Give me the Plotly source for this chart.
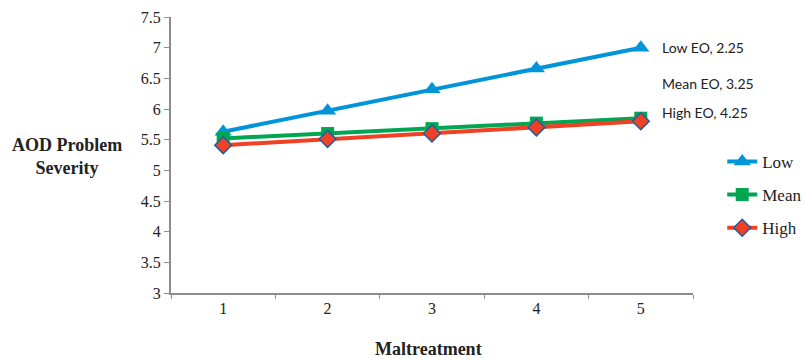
import plotly.graph_objects as go

categories = ["1", "2", "3", "4", "5"]
low_vals = [5.63, 5.97, 6.32, 6.66, 7.00]
mean_vals = [5.52, 5.60, 5.68, 5.77, 5.85]
high_vals = [5.41, 5.51, 5.60, 5.70, 5.80]
series_names = ["Low", "Mean", "High"]
end_labels = ["Low EO, 2.25", "Mean EO, 3.25", "High EO, 4.25"]

serif = "Liberation Serif, Times New Roman, serif"

fig = go.Figure()
fig.add_trace(go.Scatter(
    x=categories, y=low_vals, name=series_names[0], mode="lines+markers",
    line=dict(color="#0095D9", width=4),
    marker=dict(symbol="triangle-up", size=15, color="#0095D9"),
    legendgroup="a"))
fig.add_trace(go.Scatter(
    x=categories, y=mean_vals, name=series_names[1], mode="lines+markers",
    line=dict(color="#00A651", width=4),
    marker=dict(symbol="square", size=13, color="#00A651"),
    legendgroup="b"))
fig.add_trace(go.Scatter(
    x=categories, y=high_vals, name=series_names[2], mode="lines+markers",
    line=dict(color="#F04124", width=4),
    marker=dict(symbol="diamond", size=13, color="#F04124",
                line=dict(color="#1F5E9E", width=1.5)),
    legendgroup="c"))

fig.update_layout(
    width=805, height=358,
    margin=dict(l=171, r=112, t=17, b=65, autoexpand=False),
    paper_bgcolor="white", plot_bgcolor="white",
    font=dict(family=serif, size=16, color="#222"),
    showlegend=True,
    legend=dict(x=1.056, y=0.54, xanchor="left", yanchor="top",
                font=dict(family=serif, size=17, color="#222"),
                tracegroupgap=8, bgcolor="rgba(0,0,0,0)"),
    xaxis=dict(type="category", range=[-0.5, 4.5], showline=True, linecolor="#8c8c8c", linewidth=2,
               ticks="outside", tickson="boundaries", ticklen=4, tickcolor="#8c8c8c",
               showgrid=False, zeroline=False, automargin=False,
               tickfont=dict(family=serif, size=16, color="#222")),
    yaxis=dict(range=[3, 7.5], dtick=0.5, showline=True, linecolor="#8c8c8c", linewidth=2,
               ticks="outside", ticklen=5, tickcolor="#8c8c8c", showgrid=False, zeroline=False,
               automargin=False,
               tickfont=dict(family=serif, size=16, color="#222")),
)

ann_y = [low_vals[-1], 6.42, 5.94]
for txt, yv in zip(end_labels, ann_y):
    fig.add_annotation(x=0.937, xref="paper", y=yv, yref="y", text=txt, showarrow=False,
                       xanchor="left", yanchor="middle",
                       font=dict(family="Lato, Open Sans, sans-serif", size=14, color="#222"))

fig.add_annotation(x=(67 - 171) / 521, xref="paper", y=(293 - 156) / 276, yref="paper",
                   text="<b>AOD Problem<br>Severity</b>", showarrow=False,
                   xanchor="center", yanchor="middle",
                   font=dict(family=serif, size=18, color="#222"))

fig.add_annotation(x=(428 - 171) / 521, xref="paper", y=(293 - 349) / 276, yref="paper",
                   text="<b>Maltreatment</b>", showarrow=False, xanchor="center", yanchor="middle",
                   font=dict(family=serif, size=18, color="#222"))

fig.write_html("out.html", config={"displayModeBar": False},
               post_script="document.body.style.margin='0';document.body.style.overflow='hidden';")
